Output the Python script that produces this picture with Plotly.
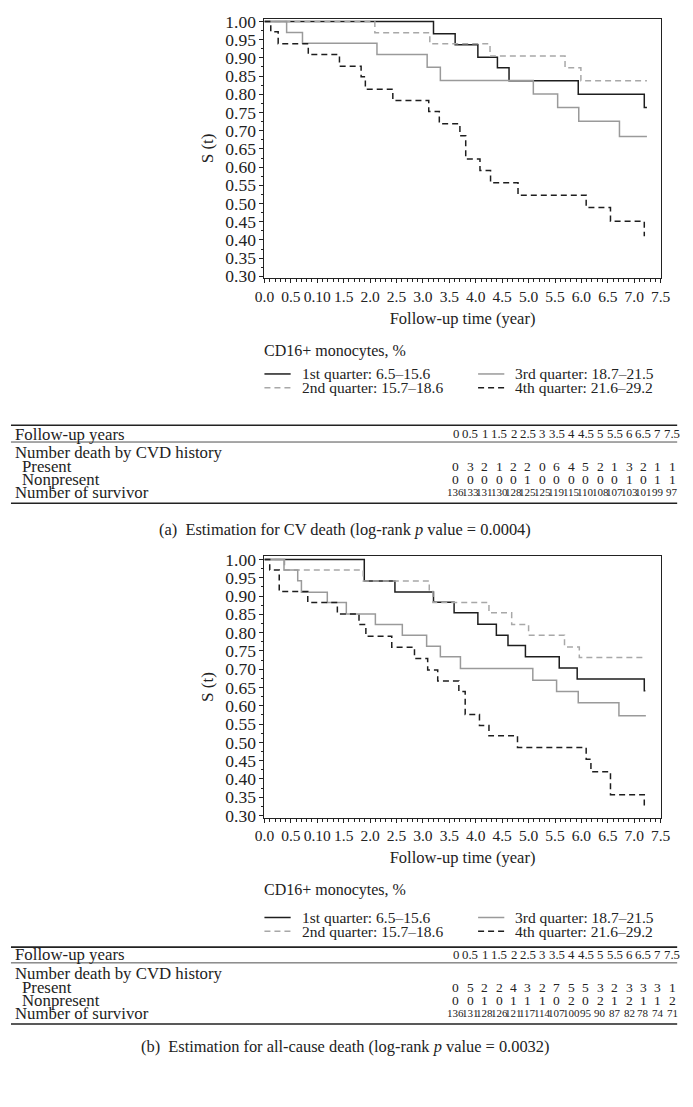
import plotly.graph_objects as go

W, H = 693, 1107

# ---------------- data: panel (a) CV death ----------------
a_q1_t = [0, 3.20, 3.61, 4.04, 4.41, 4.63, 5.94, 7.19, 7.24]
a_q1_s = [1.0, 0.966, 0.936, 0.902, 0.873, 0.837, 0.800, 0.764, 0.764]
a_q2_t = [0, 2.09, 3.13, 4.27, 5.69, 5.99, 7.24]
a_q2_s = [1.0, 0.969, 0.939, 0.905, 0.873, 0.837, 0.837]
a_q3_t = [0, 0.42, 0.72, 2.13, 3.08, 3.33, 5.09, 5.55, 5.95, 6.72, 7.24]
a_q3_s = [1.0, 0.970, 0.940, 0.909, 0.874, 0.838, 0.801, 0.764, 0.726, 0.684, 0.684]
a_q4_t = [0, 0.12, 0.26, 0.83, 1.42, 1.83, 1.91, 2.43, 3.11, 3.31, 3.70, 3.81, 4.08, 4.28, 4.80, 6.09, 6.55, 7.19]
a_q4_s = [1.0, 0.972, 0.939, 0.909, 0.877, 0.848, 0.814, 0.783, 0.753, 0.719, 0.686, 0.622, 0.591, 0.557, 0.523, 0.489, 0.451, 0.410]

# ---------------- data: panel (b) all-cause death ----------------
b_q1_t = [0, 1.89, 2.47, 3.20, 3.59, 4.04, 4.39, 4.61, 4.94, 5.58, 5.92, 7.19, 7.21]
b_q1_s = [1.0, 0.941, 0.911, 0.883, 0.854, 0.823, 0.793, 0.765, 0.734, 0.703, 0.673, 0.641, 0.641]
b_q2_t = [0, 0.38, 1.87, 3.12, 3.19, 4.25, 4.68, 5.00, 5.68, 5.96, 7.22]
b_q2_s = [1.0, 0.971, 0.941, 0.912, 0.882, 0.854, 0.822, 0.793, 0.761, 0.732, 0.732]
b_q3_t = [0, 0.37, 0.63, 0.70, 1.19, 1.55, 2.10, 2.61, 3.07, 3.33, 3.71, 5.08, 5.53, 5.94, 6.71, 7.22]
b_q3_s = [1.0, 0.971, 0.942, 0.910, 0.882, 0.851, 0.822, 0.793, 0.763, 0.734, 0.702, 0.670, 0.639, 0.608, 0.573, 0.573]
b_q4_t = [0, 0.10, 0.28, 0.82, 1.38, 1.79, 1.92, 2.41, 2.84, 3.09, 3.28, 3.68, 3.80, 4.07, 4.25, 4.79, 6.09, 6.18, 6.55, 7.19]
b_q4_s = [1.0, 0.971, 0.912, 0.882, 0.851, 0.822, 0.790, 0.760, 0.729, 0.698, 0.668, 0.639, 0.576, 0.546, 0.518, 0.486, 0.454, 0.420, 0.357, 0.325]

series_names = ["1st quarter: 6.5\u201315.6", "2nd quarter: 15.7\u201318.6",
                "3rd quarter: 18.7\u201321.5", "4th quarter: 21.6\u201329.2"]
legend_title = "CD16+ monocytes, %"

x_tickvals = [0, 0.5, 1, 1.5, 2, 2.5, 3, 3.5, 4, 4.5, 5, 5.5, 6, 6.5, 7, 7.5]
x_ticktext = ["0.0", "0.5", "0.10", "1.5", "2.0", "2.5", "3.0", "3.5", "4.0",
              "4.5", "5.0", "5.5", "6.0", "6.5", "7.0", "7.5"]
y_tickvals = [0.30, 0.35, 0.40, 0.45, 0.50, 0.55, 0.60, 0.65, 0.70, 0.75,
              0.80, 0.85, 0.90, 0.95, 1.00]

table_years = ["0", "0.5", "1", "1.5", "2", "2.5", "3", "3.5", "4", "4.5",
               "5", "5.5", "6", "6.5", "7", "7.5"]
a_present = [0, 3, 2, 1, 2, 2, 0, 6, 4, 5, 2, 1, 3, 2, 1, 1]
a_nonpresent = [0, 0, 0, 0, 0, 1, 0, 0, 0, 0, 0, 0, 1, 0, 1, 1]
a_survivor = [136, 133, 131, 130, 128, 125, 125, 119, 115, 110, 108, 107, 103, 101, 99, 97]
b_present = [0, 5, 2, 2, 4, 3, 2, 7, 5, 5, 3, 2, 3, 3, 3, 1]
b_nonpresent = [0, 0, 1, 0, 1, 1, 1, 0, 2, 0, 2, 1, 2, 1, 1, 2]
b_survivor = [136, 131, 128, 126, 121, 117, 114, 107, 100, 95, 90, 87, 82, 78, 74, 71]

row_labels = ["Follow-up years", "Number death by CVD history", "Present",
              "Nonpresent", "Number of survivor"]
caption_a = "(a)  Estimation for CV death (log-rank <i>p</i> value = 0.0004)"
caption_b = "(b)  Estimation for all-cause death (log-rank <i>p</i> value = 0.0032)"

# ---------------- styles ----------------
FONT = "Liberation Serif"
TXT = "#222222"
styles = [
    dict(color="#1e1e1e", width=1.5, dash="solid"),
    dict(color="#a8a8a8", width=1.5, dash="6px,4px"),
    dict(color="#9a9a9a", width=1.5, dash="solid"),
    dict(color="#1e1e1e", width=1.5, dash="6px,4px"),
]


def X(px):
    return px / W


def Y(py):
    return 1 - py / H


fig = go.Figure()

panels = [
    dict(data=[(a_q1_t, a_q1_s), (a_q2_t, a_q2_s), (a_q3_t, a_q3_s), (a_q4_t, a_q4_s)],
         top=11.7, bottom=275.0, xa="x", ya="y",
         cd16=349, leg1=372, leg2=386,
         rule1=424, years=433, rule2=441, nd=452, pres=466, nonp=479, surv=492, rule3=503,
         cap=530, present=a_present, nonpresent=a_nonpresent, survivor=a_survivor, caption=caption_a),
    dict(data=[(b_q1_t, b_q1_s), (b_q2_t, b_q2_s), (b_q3_t, b_q3_s), (b_q4_t, b_q4_s)],
         top=557.0, bottom=821.7, xa="x2", ya="y2",
         cd16=895, leg1=923, leg2=937,
         rule1=953, years=961, rule2=969, nd=980, pres=994, nonp=1007, surv=1020, rule3=1031,
         cap=1054, present=b_present, nonpresent=b_nonpresent, survivor=b_survivor, caption=caption_b),
]

PL, PR = 262.0, 670.0
annotations = []
shapes = []

for pi, p in enumerate(panels):
    for si, (t, s) in enumerate(p["data"]):
        fig.add_trace(go.Scatter(x=t, y=s, mode="lines", line_shape="hv",
                                 line=styles[si], name=series_names[si],
                                 showlegend=False, xaxis=p["xa"], yaxis=p["ya"]))
    # legend (drawn manually)
    annotations.append(dict(x=X(PL - 2), y=Y(p["cd16"]), xref="paper", yref="paper",
                            text=legend_title, showarrow=False, xanchor="left",
                            yanchor="middle", font=dict(size=16, family=FONT, color=TXT)))
    legpos = [(262, 289, 299, p["leg1"]), (262, 289, 299, p["leg2"]),
              (482, 509, 518, p["leg1"]), (482, 509, 518, p["leg2"])]
    for si, (x0, x1, xt, yy) in enumerate(legpos):
        shapes.append(dict(type="line", xref="paper", yref="paper",
                           x0=X(x0), x1=X(x1), y0=Y(yy), y1=Y(yy),
                           line=dict(color=styles[si]["color"], width=1.5,
                                     dash=styles[si]["dash"])))
        annotations.append(dict(x=X(xt), y=Y(yy), xref="paper", yref="paper",
                                text=series_names[si], showarrow=False, xanchor="left",
                                yanchor="middle", font=dict(size=15.5, family=FONT, color=TXT)))
    # table rules
    for key, w in [("rule1", 1.6), ("rule2", 0.8), ("rule3", 1.6)]:
        shapes.append(dict(type="line", xref="paper", yref="paper", x0=X(1), x1=X(687),
                           y0=Y(p[key]), y1=Y(p[key]), line=dict(color=TXT, width=w)))
    # row labels
    for lab, key, xx in zip(row_labels, ["years", "nd", "pres", "nonp", "surv"],
                            [3, 3, 10, 10, 3]):
        annotations.append(dict(x=X(xx), y=Y(p[key]), xref="paper", yref="paper",
                                text=lab, showarrow=False, xanchor="left", yanchor="middle",
                                font=dict(size=16.8, family=FONT, color=TXT)))
    # table columns
    c0, c1 = 459.0, 682.0
    n = len(table_years)
    for j in range(n):
        cx = c0 + (c1 - c0) * j / (n - 1)
        for val, key, fs in [(table_years[j], "years", 12.8), (p["present"][j], "pres", 13.5),
                             (p["nonpresent"][j], "nonp", 13.5), (p["survivor"][j], "surv", 11)]:
            annotations.append(dict(x=X(cx), y=Y(p[key]), xref="paper", yref="paper",
                                    text=str(val), showarrow=False, xanchor="center",
                                    yanchor="middle",
                                    font=dict(size=fs, family=FONT, color=TXT)))
    annotations.append(dict(x=X(345), y=Y(p["cap"]), xref="paper", yref="paper",
                            text=p["caption"], showarrow=False, xanchor="center",
                            yanchor="middle", font=dict(size=16.4, family=FONT, color=TXT)))

axis_common = dict(showgrid=False, zeroline=False, showline=True, mirror=True,
                   linecolor=TXT, linewidth=1, ticks="outside", ticklen=4,
                   tickcolor=TXT)

layout = dict(width=W, height=H, margin=dict(l=0, r=0, t=0, b=0),
              paper_bgcolor="white", plot_bgcolor="white",
              shapes=shapes, annotations=annotations, showlegend=False)

for pi, p in enumerate(panels):
    sfx = "" if pi == 0 else "2"
    layout["xaxis" + sfx] = dict(
        axis_common, domain=[X(PL), X(PR)], range=[0, 7.5],
        tickvals=x_tickvals, ticktext=x_ticktext, anchor="y" + sfx, tickangle=0,
        tickfont=dict(size=15.5, family=FONT, color=TXT),
        minor=dict(dtick=0.1, ticklen=3, ticks="outside", tickcolor=TXT, showgrid=False),
        title=dict(text="Follow-up time (year)", font=dict(size=16.5, family=FONT, color=TXT),
                   standoff=8))
    layout["yaxis" + sfx] = dict(
        axis_common, domain=[Y(p["bottom"]), Y(p["top"])], range=[0.2946, 1.0081],
        tickvals=y_tickvals, tickformat=".2f", anchor="x" + sfx,
        tickfont=dict(size=17.5, family=FONT, color=TXT),
        minor=dict(dtick=0.025, ticklen=2.5, ticks="outside", tickcolor=TXT, showgrid=False),
        title=dict(text="S (t)", font=dict(size=17, family=FONT, color=TXT), standoff=7))

fig.update_layout(**layout)
fig.write_html("out.html", config={"displayModeBar": False},
               post_script="document.body.style.margin='0';document.body.style.padding='0';")
